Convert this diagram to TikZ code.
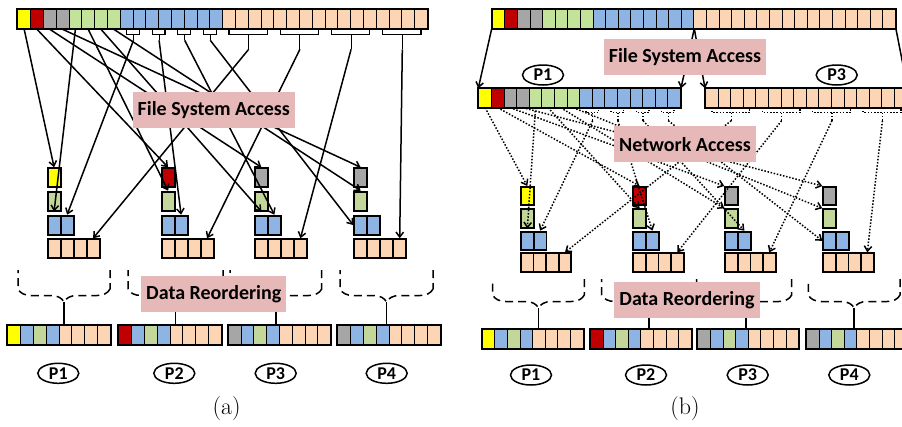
\documentclass[tikz,border=0pt]{standalone}
\usepackage{fontspec}
\newfontfamily\calib{Carlito}
\newfontfamily\lmr{Latin Modern Roman}
\usetikzlibrary{arrows.meta,shapes.geometric,decorations.pathreplacing}
\definecolor{cyel}{RGB}{255,255,0}
\definecolor{cred}{RGB}{192,0,0}
\definecolor{cgray}{RGB}{166,166,166}
\definecolor{cgrA}{RGB}{195,227,155}
\definecolor{cgrB}{RGB}{196,215,155}
\definecolor{cblue}{RGB}{141,180,226}
\definecolor{cpeach}{RGB}{252,213,181}
\definecolor{cpink}{RGB}{230,185,184}
\def\toprow{cyel,cred,cgray,cgray,cgrA,cgrA,cgrA,cgrA,cblue,cblue,cblue,cblue,cblue,cblue,cblue,cblue,cpeach,cpeach,cpeach,cpeach,cpeach,cpeach,cpeach,cpeach,cpeach,cpeach,cpeach,cpeach,cpeach,cpeach,cpeach,cpeach}
\def\leftrow{cyel,cred,cgray,cgray,cgrA,cgrA,cgrA,cgrA,cblue,cblue,cblue,cblue,cblue,cblue,cblue,cblue}
\tikzset{
  cell/.style={draw, line width=1pt, inner sep=0pt, anchor=north west, minimum width=12.8pt, minimum height=19pt},
  bcell/.style={cell, minimum width=12.6pt, minimum height=18.4pt},
  scell/.style={cell, line width=1.8pt, minimum width=13pt},
  outl/.style={line width=2pt},
  arr/.style={line width=1.5pt, -{Straight Barb[length=5pt,width=7.5pt]}},
  dots/.style={arr, dash pattern=on 1.5pt off 1.7pt},
  dotl/.style={line width=1.4pt, dash pattern=on 1.5pt off 1.7pt},
  dsh/.style={line width=1.5pt, dash pattern=on 8pt off 5pt},
  lbl/.style={fill=cpink, inner xsep=5pt, minimum height=36pt, font=\calib\bfseries\fontsize{20}{24}\selectfont},
  pname/.style={ellipse, draw, line width=1.5pt, inner sep=0pt, minimum width=41pt, minimum height=20pt, font=\calib\bfseries\fontsize{18}{18}\selectfont},
  capt/.style={font=\lmr\fontsize{24}{28}\selectfont}
}
\begin{document}
\begin{tikzpicture}[x=1pt,y=-1pt]
\useasboundingbox (0,0) rectangle (902,426);

% (a)
\foreach \cl [count=\i] in \toprow
  \node[cell,fill=\cl] (at\i) at ({17.3+12.8*(\i-1)},9.3) {};
\draw[outl] (at1.north west) rectangle (at32.south east);
\foreach \l/\r/\n in {9/10/1,11/12/2,13/14/3,15/16/4}{
  \draw[line width=1.1pt] (at\l.south) -- ++(0,5) -| (at\r.south);
  \draw[line width=1.1pt] (at\l.south east) ++(0,5) -- ++(0,6) coordinate (ab\n);}
\foreach \l/\m/\r/\n in {17/18/20/1,21/22/24/2,25/26/28/3,29/30/32/4}{
  \draw[line width=1.1pt] (at\l.south) -- ++(0,5) -| (at\r.south);
  \draw[line width=1.1pt] (at\m.south east) ++(0,5) -- ++(0,15) coordinate (ap\n);}
\foreach \k/\x/\cl in {1/46.7/cyel,2/160.7/cred,3/254/cgray,4/353.3/cgray}{
  \node[scell,fill=\cl] (a\k-y) at (\x,167.3) {};
  \node[scell,fill=cgrB] (a\k-g) at (\x,190.7) {};
  \foreach \j in {1,2}
    \node[scell,fill=cblue] (a\k-b\j) at ({\x+13*(\j-1)},214.7) {};
  \foreach \j in {1,...,4}
    \node[scell,fill=cpeach] (a\k-p\j) at ({\x+13*(\j-1)},238.3) {};
}
\foreach \sr/\tg in {1/a1-y.north,2/a2-y.north,3/a3-y.north,4/a4-y.north,5/a1-g.south,6/a2-g.north,7/a3-g.south,8/a4-g.north}
  \draw[arr] (at\sr.south) -- (\tg);
\foreach \k/\tg in {1/a1-b2.north,2/a2-b2.north,3/a3-b2.north,4/a4-b1.west}
  \draw[arr] (ab\k) -- (\tg);
\foreach \k in {1,...,4}
  \draw[arr] (ap\k) -- (a\k-p4.north);
\node[lbl] (fsa-a) at (213.8,109.7) {File System Access};

\foreach \k/\l/\r in {1/18/110,2/128/223,3/230/321.7,4/340/433}{
  \draw[dsh] (\r,270) -- (\r,289) decorate[decoration={brace,amplitude=13pt}]{-- (\l,289)} -- (\l,270);
  \coordinate (abr\k) at ({(\l+\r)/2},302);
}
\foreach \k/\x/\cl in {1/7.3/cyel,2/118.3/cred,3/227.7/cgray,4/337.3/cgray}{
  \node[cell,fill=\cl] (ar\k-1) at (\x,325) {};
  \foreach \cc [count=\j from 2] in {cblue,cgrB,cblue,cpeach,cpeach,cpeach,cpeach}
    \node[cell,fill=\cc] (ar\k-\j) at ({\x+12.8*(\j-1)},325) {};
  \draw[outl] (ar\k-1.north west) rectangle (ar\k-8.south east);
  \draw[line width=1.5pt] (abr\k) -- (abr\k |- ar\k-1.north);
}
\node[lbl] (dr-a) at (213.8,294) {Data Reordering};
\foreach \k/\x in {1/58.3,2/174.3,3/275.7,4/386.7}
  \node[pname] (pa\k) at (\x,373.3) {P\k};
\node[capt] (cap-a) at (226.7,409) {(a)};

% (b)
\foreach \cl [count=\i] in \toprow
  \node[bcell,fill=\cl] (bt\i) at ({491.7+12.6*(\i-1)},9.3) {};
\draw[outl] (bt1.north west) rectangle (bt32.south east);
\foreach \cl [count=\i] in \leftrow
  \node[bcell,fill=\cl] (bl\i) at ({478.3+12.6*(\i-1)},88.3) {};
\draw[outl] (bl1.north west) rectangle (bl16.south east);
\foreach \i in {1,...,16}
  \node[bcell,fill=cpeach] (br\i) at ({705+12.6*(\i-1)},88.3) {};
\draw[outl] (br1.north west) rectangle (br16.south east);
\draw[arr] (bt1.south west) -- (bl1.north west);
\draw[arr] (bt16.south east) -- (bl16.north east);
\draw[arr] (bt16.south east) -- (br1.north west);
\draw[arr] (bt32.south east) -- (br16.north east);
\node[pname] (pb1) at (543,75) {P1};
\node[pname] (pb3) at (836.7,75) {P3};
\node[lbl] (fsa-b) at (685,56.7) {File System Access};

\foreach \l/\r/\n in {9/10/1,11/12/2,13/14/3,15/16/4}{
  \draw[dotl] (bl\l.south) -- ++(0,5) -| (bl\r.south);
  \draw[dotl] (bl\l.south east) ++(0,5) -- ++(0,8) coordinate (bb\n);}
\foreach \l/\m/\r/\n in {1/2/4/1,5/6/8/2,9/10/12/3,13/14/16/4}{
  \draw[dotl] (br\l.south) -- ++(0,5) -| (br\r.south);
  \draw[dotl] (br\m.south east) ++(0,5) -- ++(0,8) coordinate (bp\n);}
\foreach \k/\x/\cl in {1/520/cyel,2/632.3/cred,3/724.3/cgray,4/822.3/cgray}{
  \node[scell,fill=\cl,minimum width=12.8pt,minimum height=18.4pt] (b\k-y) at (\x,186) {};
  \node[scell,fill=cgrB,minimum width=12.8pt,minimum height=18.4pt] (b\k-g) at (\x,208.3) {};
  \foreach \j in {1,2}
    \node[scell,fill=cblue,minimum width=12.8pt,minimum height=18.4pt] (b\k-b\j) at ({\x+12.8*(\j-1)},230.7) {};
  \foreach \j in {1,...,4}
    \node[scell,fill=cpeach,minimum width=12.6pt,minimum height=18.4pt] (b\k-p\j) at ({\x+12.6*(\j-1)},252.3) {};
}
\foreach \sr/\tg in {1/b1-y.north,2/b2-y.north,3/b3-y.north west,4/b4-y.north west,5/b1-g.south,6/b2-g.north,7/b3-g.north west,8/b4-g.north west}
  \draw[dots] (bl\sr.south) -- (\tg);
\foreach \k/\tg in {1/b1-b2.north,2/b2-b2.north,3/b3-b2.north,4/b4-b1.west}
  \draw[dots] (bb\k) -- (\tg);
\foreach \k in {1,...,4}
  \draw[dots] (bp\k) -- (b\k-p4.north);
\node[lbl] (na-b) at (685,144.2) {Network Access};

\foreach \k/\l/\r in {1/492.7/584.3,2/601.7/696.7,3/700/791.7,4/808.3/900}{
  \draw[dsh] (\r,279) -- (\r,295) decorate[decoration={brace,amplitude=13pt}]{-- (\l,295)} -- (\l,279);
  \coordinate (bbr\k) at ({(\l+\r)/2},308);
}
\foreach \k/\x/\cl in {1/481.7/cyel,2/590/cred,3/697.3/cgray,4/806/cgray}{
  \node[cell,fill=\cl,minimum width=12.6pt] (brr\k-1) at (\x,329.3) {};
  \foreach \cc [count=\j from 2] in {cblue,cgrB,cblue,cpeach,cpeach,cpeach,cpeach}
    \node[cell,fill=\cc,minimum width=12.6pt] (brr\k-\j) at ({\x+12.6*(\j-1)},329.3) {};
  \draw[outl] (brr\k-1.north west) rectangle (brr\k-8.south east);
  \draw[line width=1.5pt] (bbr\k) -- (bbr\k |- brr\k-1.north);
}
\node[lbl] (dr-b) at (687,299.8) {Data Reordering};
\foreach \k/\x in {1/531,2/646,3/747.7,4/849.3}
  \node[pname] (pbb\k) at (\x,375) {P\k};
\node[capt] (cap-b) at (685,409) {(b)};
\end{tikzpicture}
\end{document}
